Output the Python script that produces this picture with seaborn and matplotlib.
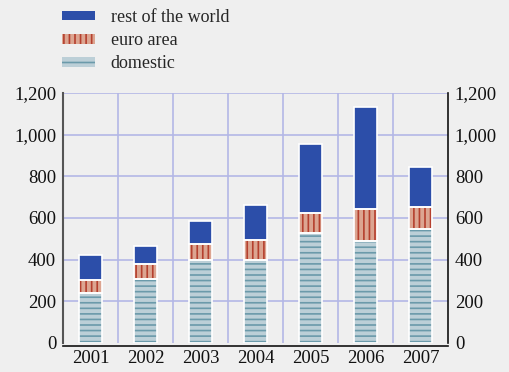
import numpy as np
import pandas as pd
import matplotlib
matplotlib.use("Agg")
import matplotlib.pyplot as plt
import matplotlib.patches as mpatches
from matplotlib.ticker import FuncFormatter, FixedLocator
import seaborn as sns

# data
years = ["2001", "2002", "2003", "2004", "2005", "2006", "2007"]
domestic = [240, 307, 398, 400, 528, 490, 547]
euro_area = [62, 72, 77, 94, 96, 153, 106]
rest_world = [120, 87, 110, 168, 331, 490, 192]

dom_face, dom_hatch = "#bccfd7", "#6b9aaa"
euro_face, euro_hatch = "#dca591", "#b5402e"
rest_col = "#2c4ea9"
bg = "#efefef"
grid_col = "#b3b7e6"

sns.set_style("white")
plt.rcParams["font.family"] = ["Liberation Serif", "DejaVu Serif"]
plt.rcParams["hatch.linewidth"] = 1.2

df = pd.DataFrame({"year": years, "domestic": domestic,
                   "euro": euro_area, "rest": rest_world})
bottom_euro = np.array(domestic)
bottom_rest = bottom_euro + np.array(euro_area)

fig = plt.figure(figsize=(5.09, 3.72), dpi=100, facecolor=bg)
ax = fig.add_axes([0.124, 0.078, 0.756, 0.672], facecolor=bg)

bw = 0.42
layers = [
    ("domestic", 0, dom_face, dom_hatch, "---"),
    ("euro", bottom_euro, euro_face, euro_hatch, "|||"),
    ("rest", bottom_rest, rest_col, rest_col, None),
]
for col, bot, face, hcol, hatch in layers:
    sns.barplot(data=df, x="year", y=col, order=years, color=face,
                saturation=1, width=bw, errorbar=None, bottom=bot,
                edgecolor=hcol, linewidth=0, hatch=hatch, ax=ax, zorder=2)
# white outlines on top
tops = [np.array(domestic), np.array(euro_area), np.array(rest_world)]
bots = [np.zeros(7), bottom_euro, bottom_rest]
for h, b in zip(tops, bots):
    ax.bar(range(7), h, width=bw, bottom=b, facecolor="none",
           edgecolor="white", linewidth=1.2, zorder=3)

ax.set_xlim(-0.5, 6.5)
ax.set_ylim(0, 1200)
ax.set_xlabel("")
ax.set_ylabel("")

fs = 13.5
ax.yaxis.set_major_locator(FixedLocator(range(0, 1201, 200)))
ax.yaxis.set_major_formatter(FuncFormatter(lambda v, p: f"{int(v):,}"))
ax.tick_params(axis="y", length=0, labelsize=fs, pad=5,
               labelleft=True, labelright=True, colors="#111111")
ax.tick_params(axis="x", which="major", length=0, labelsize=fs, pad=3,
               colors="#111111")
ax.xaxis.set_minor_locator(FixedLocator(np.arange(-0.5, 7, 1)))
ax.tick_params(axis="x", which="minor", length=3, width=1, direction="out")

# grid: horizontal at ticks, vertical at category boundaries
for v in range(200, 1201, 200):
    ax.axhline(v, color=grid_col, lw=1.2, zorder=0)
for b in np.arange(0.5, 6.5, 1):
    ax.axvline(b, color=grid_col, lw=1.2, zorder=0)

ax.spines["top"].set_visible(False)
ax.spines["left"].set_color("#555555")
ax.spines["left"].set_linewidth(1.5)
ax.spines["right"].set_color("#111111")
ax.spines["right"].set_linewidth(1.2)
ax.spines["bottom"].set_color("#111111")
ax.spines["bottom"].set_linewidth(1.2)
ax.spines["bottom"].set_position(("outward", 2))

handles = [
    mpatches.Patch(facecolor=rest_col, edgecolor=rest_col, lw=0, label="rest of the world"),
    mpatches.Patch(facecolor=euro_face, edgecolor=euro_hatch, lw=0, hatch="|||", label="euro area"),
    mpatches.Patch(facecolor=dom_face, edgecolor=dom_hatch, lw=0, hatch="--", label="domestic"),
]
fig.legend(handles=handles, loc="upper left", bbox_to_anchor=(0.09, 1.02),
           frameon=False, fontsize=13, handlelength=1.85, handleheight=0.45,
           handletextpad=0.85, labelspacing=0.35)

fig.savefig("out.png", dpi=100, facecolor=bg)
